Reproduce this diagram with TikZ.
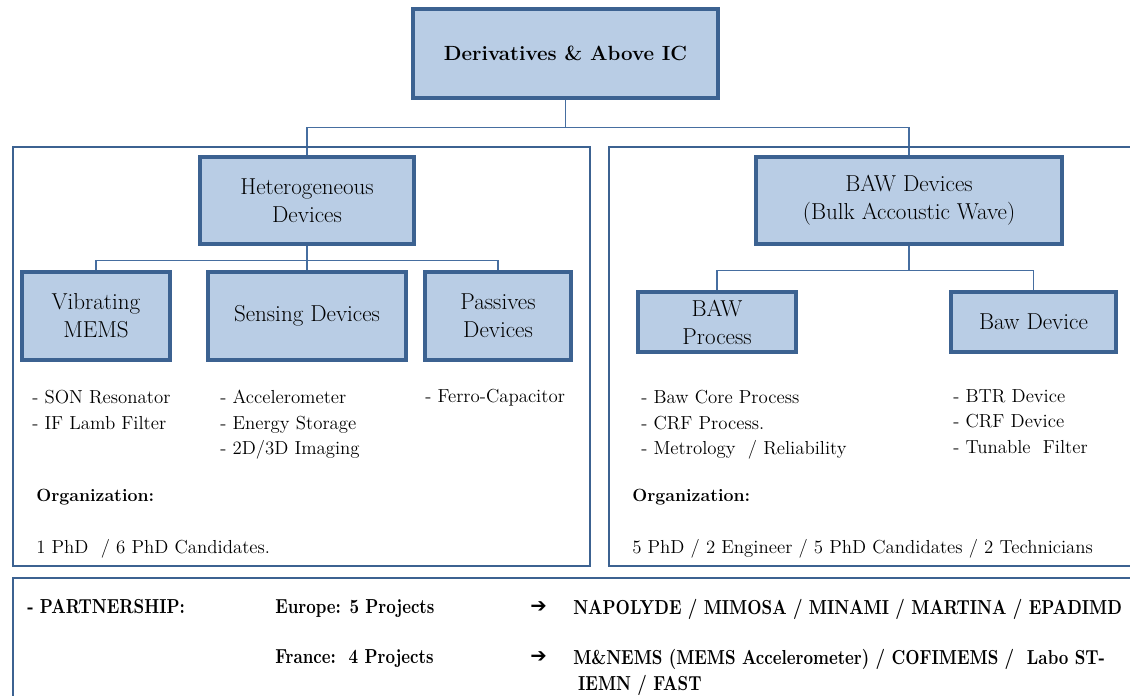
\documentclass[tikz,border=0pt]{standalone}
\usepackage{fontspec}
\newfontfamily\arrowfont{DejaVu Sans}
\newfontfamily\condfont{lmroman10}[Extension=.otf, UprightFont=*-regular, BoldFont=*-bold, FakeStretch=0.82]
\usetikzlibrary{backgrounds}

\definecolor{boxfill}{RGB}{185,205,229}
\definecolor{boxline}{RGB}{60,98,145}
\definecolor{linkline}{RGB}{70,110,160}

\tikzset{
  orgbox/.style={draw=boxline, line width=2.6pt, fill=boxfill, align=center,
    inner sep=0pt, font=\fontsize{16.4}{19.9}\selectfont},
  groupframe/.style={draw=boxline, line width=2pt},
  link/.style={draw=linkline, line width=0.9pt},
  itemlist/.style={anchor=north west, align=left, inner sep=0pt,
    font=\fontsize{13.4}{18.1}\selectfont},
  boldtext/.style={anchor=north west, align=left, inner sep=0pt,
    font=\bfseries\fontsize{12.6}{18.5}\selectfont},
  parttext/.style={anchor=north west, align=left, inner sep=0pt,
    font=\condfont\bfseries\fontsize{14.4}{18.5}\selectfont},
  arrowmark/.style={anchor=west, inner sep=0pt, font=\arrowfont\bfseries\fontsize{14}{16}\selectfont},
}

\begin{document}
\begin{tikzpicture}[x=0.025cm, y=-0.025cm]
\useasboundingbox (0,0) rectangle (1130,696);
\clip (0,0) rectangle (1130,696);

% group frames
\draw[groupframe] (13,147) rectangle (590,566);
\draw[groupframe] (609,147) rectangle (1145,566);
\draw[groupframe] (13,578) rectangle (1145,710);

% boxes
\node[orgbox, minimum width=7.625cm, minimum height=2.225cm,
  font=\bfseries\fontsize{14.6}{19}\selectfont] (top) at (565.5,53.5) {Derivatives \& Above IC};
\node[orgbox, minimum width=5.35cm, minimum height=2.175cm] (het) at (307,200.5) {Heterogeneous\\Devices};
\node[orgbox, minimum width=7.65cm, minimum height=2.175cm] (bawd) at (909,200.5) {BAW Devices\\(Bulk Accoustic Wave)};
\node[orgbox, minimum width=3.7cm, minimum height=2.2cm] (vib) at (96,316) {Vibrating\\MEMS};
\node[orgbox, minimum width=4.95cm, minimum height=2.2cm] (sens) at (307,316) {Sensing Devices};
\node[orgbox, minimum width=3.65cm, minimum height=2.2cm] (pas) at (498,316) {Passives\\Devices};
\node[orgbox, minimum width=3.95cm, minimum height=1.5cm] (bawp) at (717,322) {BAW\\Process};
\node[orgbox, minimum width=4.125cm, minimum height=1.5cm] (bawdev) at (1033.5,322) {Baw Device};

% connectors
\begin{scope}[on background layer]
\draw[link] (top.south) -- ++(0,28) -| (het.north);
\draw[link] (top.south) -- ++(0,28) -| (bawd.north);
\draw[link] (het.south) -- ++(0,15) -| (vib.north);
\draw[link] (het.south) -- ++(0,15) -| (pas.north);
\draw[link] (het.south) -- (sens.north);
\draw[link] (bawd.south) -- ++(0,25) -| (bawp.north);
\draw[link] (bawd.south) -- ++(0,25) -| (bawdev.north);
\end{scope}

% left group texts
\node[itemlist] (vibl) at (32,390) {- SON Resonator\\- IF Lamb Filter};
\node[itemlist] (sensl) at (220,390) {- Accelerometer\\- Energy Storage\\- 2D/3D Imaging};
\node[itemlist] (pasl) at (425,389) {- Ferro-Capacitor};
\node[boldtext] (orgl) at (36,489) {Organization:};
\node[itemlist] (staffl) at (36,539) {1 PhD\ \ / 6 PhD Candidates.};

% right group texts
\node[itemlist] (bawpl) at (641,390) {- Baw Core Process\\- CRF Process.\\- Metrology\ \ / Reliability};
\node[itemlist] (bawdl) at (953,389) {- BTR Device\\- CRF Device\\- Tunable\ \ Filter};
\node[boldtext] (orgr) at (632,489) {Organization:};
\node[itemlist] (staffr) at (632,539) {5 PhD / 2 Engineer / 5 PhD Candidates / 2 Technicians};

% partnership
\node[parttext] (partn) at (27,599) {- PARTNERSHIP:};
\node[parttext] (europe) at (275,599) {Europe: 5 Projects};
\node[arrowmark] (arr1) at (530,607) {➔};
\node[parttext] (eulist) at (573,599) {NAPOLYDE / MIMOSA / MINAMI / MARTINA / EPADIMD};
\node[parttext] (france) at (275,649) {France:\ \ 4 Projects};
\node[arrowmark] (arr2) at (530,657) {➔};
\node[parttext] (frlist) at (573,649) {M\&NEMS (MEMS Accelerometer) / COFIMEMS /\ \ Labo ST-\\\hspace{3.5pt}IEMN / FAST};

\end{tikzpicture}
\end{document}
